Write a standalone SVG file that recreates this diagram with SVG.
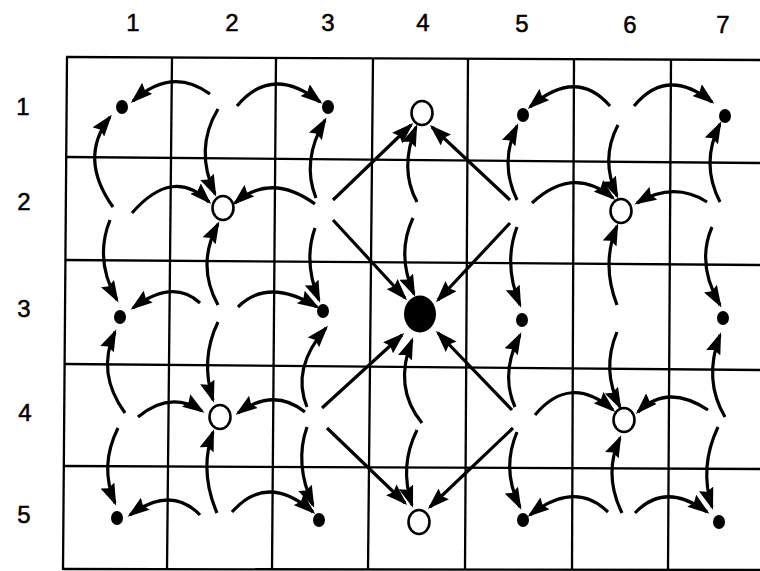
<svg xmlns="http://www.w3.org/2000/svg" width="760" height="571" viewBox="0 0 760 571">
<style>
.grid line{stroke:#000;stroke-width:2.3}
.lbl{font-family:"Liberation Sans",Arial,sans-serif;font-size:24px;fill:#000;stroke:#000;stroke-width:0.5;text-anchor:middle}
.conn path{fill:none;stroke:#000;stroke-width:3.2;marker-end:url(#ah)}
.dot{fill:#000}
.open{fill:#fff;stroke:#000;stroke-width:2.6}
</style>
<defs>
<marker id="ah" markerUnits="userSpaceOnUse" viewBox="0 0 22 15" markerWidth="22" markerHeight="15" refX="19" refY="7.5" orient="auto">
<path d="M0,0 L22,7.5 L0,15 L3,7.5 z" fill="#000"/>
</marker>
</defs>
<rect width="760" height="571" fill="#fff"/>
<g id="labels">
<text class="lbl" x="133" y="31">1</text>
<text class="lbl" x="232" y="31">2</text>
<text class="lbl" x="328" y="31">3</text>
<text class="lbl" x="423" y="31">4</text>
<text class="lbl" x="522" y="32">5</text>
<text class="lbl" x="630" y="33">6</text>
<text class="lbl" x="723" y="33">7</text>
<text class="lbl" x="23" y="115">1</text>
<text class="lbl" x="24" y="210">2</text>
<text class="lbl" x="24" y="317">3</text>
<text class="lbl" x="25" y="421">4</text>
<text class="lbl" x="24" y="523">5</text>
</g>
<g id="grid" class="grid">
<line x1="66" y1="57" x2="760" y2="60"/>
<line x1="66" y1="157" x2="760" y2="163"/>
<line x1="65" y1="260" x2="760" y2="265"/>
<line x1="64" y1="364" x2="760" y2="370"/>
<line x1="64" y1="466" x2="760" y2="469"/>
<line x1="63" y1="569" x2="760" y2="570"/>
<line x1="67" y1="57" x2="63" y2="570"/>
<line x1="172" y1="57" x2="167" y2="570"/>
<line x1="276" y1="57" x2="272" y2="570"/>
<line x1="373" y1="58" x2="368" y2="570"/>
<line x1="468" y1="58" x2="465" y2="570"/>
<line x1="574" y1="58" x2="572" y2="570"/>
<line x1="671" y1="59" x2="668" y2="570"/>
</g>
<g id="connectors" class="conn">
<path d="M210,94 Q172,66 133,101"/>
<path d="M237,106 Q272,64 320,102"/>
<path d="M218,109 Q194,149 215,194"/>
<path d="M113,207 Q78,158 110,117"/>
<path d="M132,213 Q173,166 209,202"/>
<path d="M110,220 Q94,260 117,300"/>
<path d="M315,204 Q271,172 235,203"/>
<path d="M316,198 Q301,161 325,120"/>
<path d="M333,200 L411,125"/>
<path d="M333,220 L405,298"/>
<path d="M315,228 Q303,262 319,300"/>
<path d="M417,202 Q399,169 416,127"/>
<path d="M413,218 Q396,254 414,294"/>
<path d="M510,200 L432,127"/>
<path d="M510,223 L438,300"/>
<path d="M517,200 Q499,163 517,126"/>
<path d="M532,203 Q573,165 613,198"/>
<path d="M517,227 Q503,264 520,305"/>
<path d="M610,106 Q576,67 530,107"/>
<path d="M634,106 Q667,66 712,102"/>
<path d="M618,125 Q600,159 617,196"/>
<path d="M707,202 Q674,181 637,203"/>
<path d="M720,202 Q700,163 720,124"/>
<path d="M712,227 Q696,264 720,305"/>
<path d="M617,305 Q601,264 617,226"/>
<path d="M617,332 Q601,370 620,407"/>
<path d="M200,303 Q173,278 133,308"/>
<path d="M238,307 Q268,277 317,307"/>
<path d="M218,305 Q196,265 218,224"/>
<path d="M218,322 Q200,359 213,400"/>
<path d="M307,407 Q291,368 326,328"/>
<path d="M305,412 Q274,387 238,413"/>
<path d="M307,427 Q294,464 313,505"/>
<path d="M322,408 L402,335"/>
<path d="M327,428 L405,503"/>
<path d="M422,423 Q393,388 412,340"/>
<path d="M417,430 Q399,466 412,505"/>
<path d="M512,410 L438,333"/>
<path d="M513,428 L430,507"/>
<path d="M515,407 Q500,373 520,335"/>
<path d="M517,432 Q501,470 520,507"/>
<path d="M535,415 Q570,373 613,410"/>
<path d="M708,410 Q667,383 638,412"/>
<path d="M725,417 Q703,380 720,335"/>
<path d="M718,427 Q699,467 712,507"/>
<path d="M622,513 Q603,474 620,438"/>
<path d="M635,513 Q665,481 707,512"/>
<path d="M608,512 Q575,480 530,515"/>
<path d="M125,413 Q96,373 115,332"/>
<path d="M138,417 Q170,390 202,411"/>
<path d="M118,428 Q99,466 115,503"/>
<path d="M200,515 Q171,485 130,515"/>
<path d="M232,512 Q267,472 313,512"/>
<path d="M217,513 Q199,471 213,432"/>
</g>
<g id="n11"><ellipse class="dot" cx="122" cy="107" rx="6" ry="7"/></g>
<g id="n31"><ellipse class="dot" cx="328" cy="107" rx="6" ry="7"/></g>
<g id="n41"><ellipse class="open" cx="422" cy="113" rx="10.5" ry="12"/></g>
<g id="n51"><ellipse class="dot" cx="523" cy="115" rx="6" ry="7"/></g>
<g id="n71"><ellipse class="dot" cx="725" cy="116" rx="6" ry="7"/></g>
<g id="n22"><ellipse class="open" cx="223" cy="208" rx="10.5" ry="12"/></g>
<g id="n62"><ellipse class="open" cx="621" cy="211" rx="10.5" ry="12"/></g>
<g id="n13"><ellipse class="dot" cx="120" cy="317" rx="6" ry="7"/></g>
<g id="n33"><ellipse class="dot" cx="323" cy="311" rx="6" ry="7"/></g>
<g id="n43"><ellipse class="dot" cx="420" cy="314" rx="16" ry="18.5"/></g>
<g id="n53"><ellipse class="dot" cx="522" cy="320" rx="6" ry="7"/></g>
<g id="n73"><ellipse class="dot" cx="723" cy="318" rx="6" ry="7"/></g>
<g id="n24"><ellipse class="open" cx="220" cy="417" rx="10.5" ry="12"/></g>
<g id="n64"><ellipse class="open" cx="624" cy="420" rx="10.5" ry="12"/></g>
<g id="n15"><ellipse class="dot" cx="117" cy="518" rx="6" ry="7"/></g>
<g id="n35"><ellipse class="dot" cx="319" cy="520" rx="6" ry="7"/></g>
<g id="n45"><ellipse class="open" cx="419" cy="522" rx="10.5" ry="12"/></g>
<g id="n55"><ellipse class="dot" cx="523" cy="520" rx="6" ry="7"/></g>
<g id="n75"><ellipse class="dot" cx="719" cy="522" rx="6" ry="7"/></g>
</svg>
